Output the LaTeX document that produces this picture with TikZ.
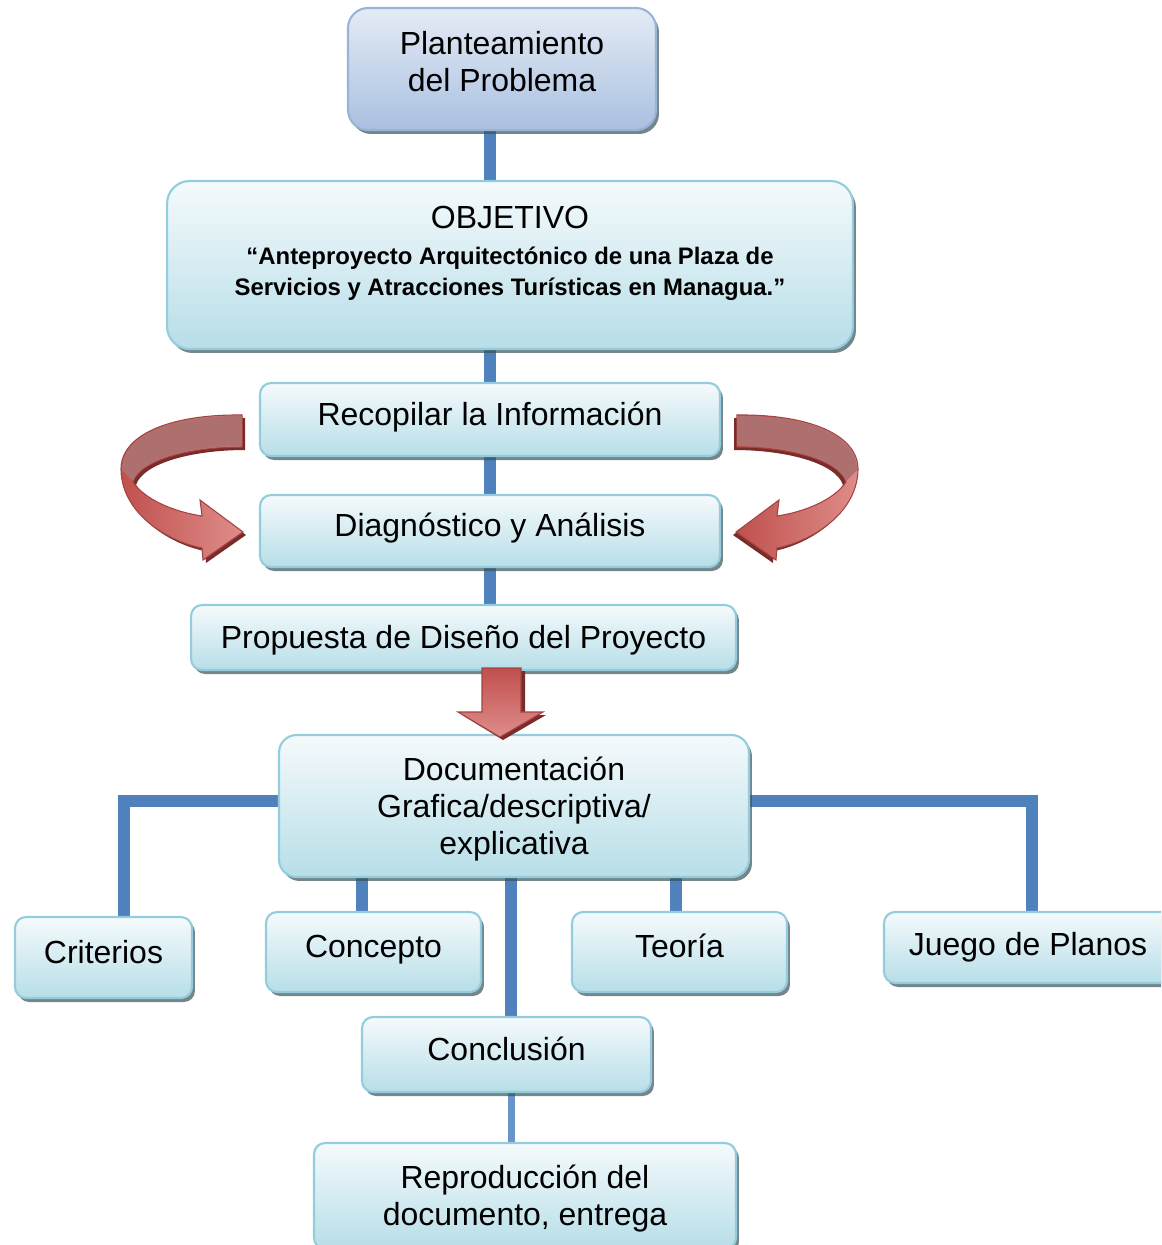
\documentclass[tikz,border=0pt]{standalone}
\usepackage{fontspec}
\setmainfont{Liberation Sans}
\usetikzlibrary{shadows}
\pgfdeclarelayer{bg}
\pgfsetlayers{bg,main}
\definecolor{boxline}{HTML}{93CDDD}
\definecolor{boxtop}{HTML}{F5FAFC}
\definecolor{boxbot}{HTML}{B7DEE8}
\definecolor{plantline}{HTML}{9AB4D8}
\definecolor{planttop}{HTML}{E4EBF5}
\definecolor{plantbot}{HTML}{AAC0E0}
\definecolor{linkblue}{HTML}{4F81BD}
\definecolor{redmain}{HTML}{C0504D}
\definecolor{redlight}{HTML}{DE8D8B}
\definecolor{redback}{HTML}{AE706F}
\definecolor{reddark}{HTML}{7B2B29}
\newcommand\bodyfont{\fontsize{18.2pt}{21pt}\selectfont}
\tikzset{
    box/.style={draw=boxline, line width=1.2pt, rounded corners=0.22cm,
        top color=boxtop, bottom color=boxbot, align=center, font=\bodyfont,
        drop shadow={shadow xshift=0.6mm, shadow yshift=-0.8mm, fill=black!60!boxline, opacity=0.7}},
    topbox/.style={box, draw=plantline, rounded corners=0.4cm, top color=planttop, bottom color=plantbot},
    oneline/.style={text height=0.48cm, text depth=0.256cm},
    link/.style={draw=linkblue, line width=0.24cm},
    redshape/.style={draw=redmain!85!black, line width=0.6pt, left color=redmain, right color=redlight}
}
% twisted ribbon arrow, pixel units
\newcommand\twistarrow{%
    \fill[reddark] (245,418) .. controls (173,417) and (123,438) .. (124,473)
        .. controls (125,518) and (173,545) .. (205,551) -- (206,563) -- (246,535)
        -- (203,503) -- (205,519) .. controls (178,515) and (148,503) .. (136,485)
        .. controls (143,463) and (193,450) .. (245,450) -- cycle;
    \path[redshape] (242,415) .. controls (170,414) and (120,435) .. (121,470)
        .. controls (122,515) and (170,542) .. (202,548) -- (203,560) -- (243,532)
        -- (200,500) -- (202,516) .. controls (175,512) and (145,500) .. (133,482)
        .. controls (140,460) and (190,447) .. (242,447) -- cycle;
    \fill[redback] (242,416) .. controls (170,415) and (121,436) .. (122,470)
        -- (133,481) .. controls (140,460) and (190,446) .. (242,446) -- cycle;
}

\begin{document}
\begin{tikzpicture}[x=0.02cm, y=-0.02cm]
    \clip (0,0) rectangle (1161,1245);

    \node (plant) [topbox, text depth=0.32cm, minimum width=6.16cm, minimum height=2.44cm] at (502,69) {Planteamiento\\del Problema};
    \node (obj) [box, rounded corners=0.45cm, minimum width=13.72cm, minimum height=3.36cm] at (510,265) {};
    \node (objtext) [align=center, font=\fontsize{13.6pt}{17.6pt}\selectfont\bfseries] at (510,253)
        {{\bodyfont\mdseries OBJETIVO}\\[2.8pt]“Anteproyecto Arquitectónico de una Plaza de\\Servicios y Atracciones Turísticas en Managua.”};
    \node (recop) [box, oneline, minimum width=9.2cm, minimum height=1.46cm] at (490,419.5) {Recopilar la Información};
    \node (diag) [box, oneline, minimum width=9.2cm, minimum height=1.44cm] at (490,531) {Diagnóstico y Análisis};
    \node (prop) [box, text depth=0.02cm, minimum width=10.9cm, minimum height=1.3cm] at (463.5,637.5) {Propuesta de Diseño del Proyecto};
    \node (doc) [box, text depth=0pt, rounded corners=0.35cm, minimum width=9.4cm, minimum height=2.84cm] at (514,806) {Documentación\\Grafica/descriptiva/\\explicativa};
    \node (crit) [box, oneline, minimum width=3.54cm, minimum height=1.62cm] at (103.5,957.5) {Criterios};
    \node (conc) [box, oneline, minimum width=4.3cm, minimum height=1.6cm] at (373.5,952) {Concepto};
    \node (teo) [box, oneline, minimum width=4.3cm, minimum height=1.6cm] at (679.5,952) {Teoría};
    \node (juego) [box, minimum width=5.76cm, minimum height=1.42cm] at (1028,947.5) {Juego de Planos};
    \node (concl) [box, oneline, minimum width=5.78cm, minimum height=1.5cm] at (506.5,1054.5) {Conclusión};
    \node (repro) [box, text depth=0.03cm, minimum width=8.44cm, minimum height=2.12cm] at (525,1196) {Reproducción del\\documento, entrega};

    \begin{pgfonlayer}{bg}
        \draw[link] (recop |- plant.south) -- (recop |- obj.north);
        \draw[link] (recop |- obj.south) -- (recop.north);
        \draw[link] (recop.south) -- (diag.north);
        \draw[link] (diag.south) -- (diag |- prop.north);
        \draw[link] ([yshift=0.1cm]doc.west) -| ([xshift=0.41cm]crit.north);
        \draw[link] ([yshift=0.1cm]doc.east) -| ([xshift=0.08cm]juego.north);
        \draw[link] ([xshift=-0.23cm]conc.north) -- ([xshift=-0.23cm]conc.north |- doc.south);
        \draw[link] ([xshift=-0.07cm]teo.north) -- ([xshift=-0.07cm]teo.north |- doc.south);
        \draw[link] ([xshift=0.09cm]concl.north) -- ([xshift=0.09cm]concl.north |- doc.south);
        \draw[link, line width=0.14cm, draw=linkblue!85!white] ([xshift=0.09cm]concl.south) -- ([xshift=0.09cm]concl.south |- repro.north);
    \end{pgfonlayer}

    % red arrows
    \twistarrow
    \begin{scope}[shift={(979,0)}, xscale=-1]
        \twistarrow
    \end{scope}
    \fill[reddark] (486,671) -- (525,671) -- (525,715) -- (546,715) -- (503,740) -- (462,715) -- (486,715) -- cycle;
    \path[draw=redmain!85!black, line width=0.6pt, top color=redmain, bottom color=redlight]
        (482,668) -- (521,668) -- (521,712) -- (543,712) -- (500,737) -- (458,712) -- (482,712) -- cycle;
\end{tikzpicture}
\end{document}
